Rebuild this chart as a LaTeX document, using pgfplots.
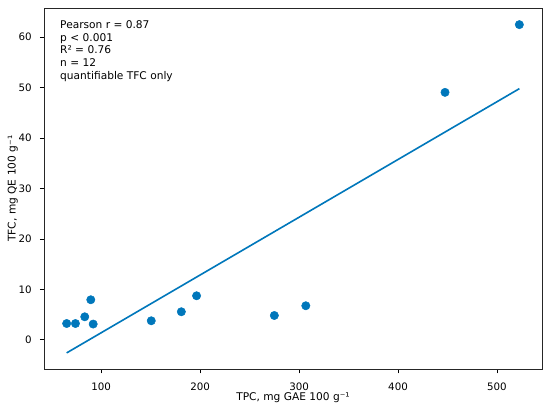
\documentclass[border=0pt]{standalone}
\usepackage{fontspec}
\setmainfont{DejaVu Sans}
\usepackage{pgfplots}
\pgfplotsset{compat=1.18}
\definecolor{ptblue}{RGB}{0,119,187}
\begin{document}
\begin{tikzpicture}
\path[use as bounding box] (-36.86pt,-34.94pt) rectangle (423.93pt,309.40pt);
\begin{axis}[
  at={(0pt,0pt)}, anchor=south west,
  scale only axis,
  width=417.23pt, height=302.70pt,
  xmin=42.2, xmax=545.5,
  ymin=-5.85, ymax=65.8,
  xtick={100,200,300,400,500},
  ytick={0,10,20,30,40,50,60},
  tick pos=left,
  tick align=outside,
  major tick length=3.5pt,
  every tick/.style={black, line width=0.7pt},
  axis line style={line width=0.7pt, black!85},
  font=\fontsize{8.9}{10.6}\selectfont,
  /pgf/number format/assume math mode=true,
  xticklabel style={inner sep=0pt, anchor=center, yshift=-10.8pt, font=\fontsize{8.6}{10}\selectfont},
  yticklabel style={inner sep=0pt, anchor=east, xshift=-6.7pt, font=\fontsize{8.6}{10}\selectfont},
  xlabel={TPC, mg GAE 100 g⁻¹},
  ylabel={TFC, mg QE 100 g⁻¹},
  xlabel style={at={(axis description cs:0.5,-0.079)}, anchor=center, inner sep=0pt},
  ylabel style={at={(axis description cs:-0.0626,0.5)}, anchor=center, inner sep=0pt},
  clip=false,
]
\addplot[only marks, mark=*, mark size=3.5pt, ptblue, mark options={draw=ptblue, fill=ptblue}] coordinates {
  (65.1,3.23) (74.0,3.23) (83.4,4.56) (89.5,7.94) (91.9,3.12) (150.6,3.77)
  (181.0,5.56) (196.4,8.73) (275.0,4.82) (306.8,6.75) (447.5,49.07) (522.6,62.5)
};
\addplot[ptblue, line width=1.35pt] coordinates {(65.1,-2.6) (522.6,49.8)};
\node[anchor=north west, align=left, inner sep=0pt, font=\fontsize{8.9}{10.6}\selectfont]
  at ([xshift=13.4pt, yshift=-10.4pt]rel axis cs:0,1)
  {Pearson r = 0.87\\p < 0.001\\R² = 0.76\\n = 12\\quantifiable TFC only};
\end{axis}
\end{tikzpicture}
\end{document}
